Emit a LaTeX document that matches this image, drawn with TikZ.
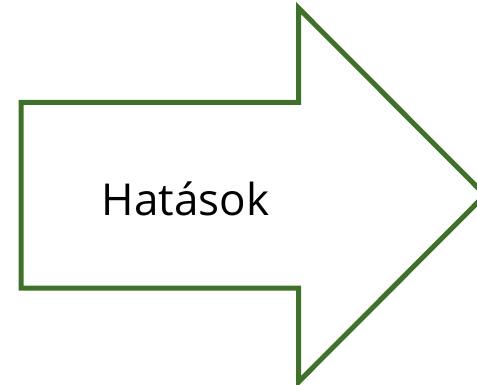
\documentclass[tikz,border=0pt]{standalone}
\usepackage{fontspec}
\setmainfont{Open Sans}
\usetikzlibrary{positioning}
\definecolor{arrowgreen}{RGB}{64,113,42}

\begin{document}
\begin{tikzpicture}[x=1pt, y=-1pt, font=\fontsize{44}{50}\selectfont, every node/.style={inner sep=0pt}, outline/.style={draw=arrowgreen, line width=5pt, line join=miter}]
\useasboundingbox (0,0) rectangle (477,385);
\begin{scope}
\clip (0,0) rectangle (477,385);
\draw[outline] (21,102.5) -- (298.5,102.5) -- (298.5,8) -- (485,195)
  -- (298.5,382) -- (298.5,288) -- (21,288) -- cycle;
\end{scope}
\node[anchor=base] (label) at (185.5,215) {Hatások};
\end{tikzpicture}
\end{document}
